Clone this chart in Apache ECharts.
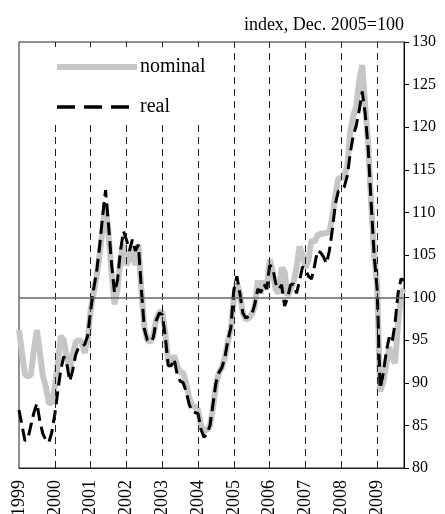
<!DOCTYPE html>
<html>
<head>
<meta charset="utf-8">
<script src="https://cdn.jsdelivr.net/npm/echarts@6/dist/echarts.min.js"></script>
<style>
html,body{margin:0;padding:0;background:#fff;}
#c{width:445px;height:514px;}
</style>
</head>
<body>
<div id="c"></div>
<script>
const years = ['1999','2000','2001','2002','2003','2004','2005','2006','2007','2008','2009'];
const monthsInLastYear = 10;
const yTicks = [80, 85, 90, 95, 100, 105, 110, 115, 120, 125, 130];
const fullDashYears = ['2005','2006','2007','2008','2009'];
const shortDashYears = ['2000','2001','2002','2003','2004'];
const shortDashTop = 120.8;
const baseLine = 100;

const nominal = [
  96.2, 93.5, 91, 90.7, 91, 94, 96.2, 93.5, 90.8, 89.5, 87.6, 87.7,
  89.5, 92.3, 95.5, 95, 93, 91.5, 93.3, 94.8, 95, 94.8, 93.5, 95,
  98.5, 100.5, 102.5, 105, 108, 111, 107.5, 103, 99.2, 101, 104.5, 106.3,
  103.8, 104.5, 106, 103.8, 106.2, 101, 96.5, 95, 94.8, 95.5, 97.5, 98.3,
  98.3, 96, 92.5, 92.3, 93.2, 92, 91.2, 91.2, 90, 88.3, 87.3, 87.2,
  86.8, 85, 84.3, 84.5, 85, 87, 89.8, 91.2, 91.8, 93, 94.8, 96.3,
  100, 101.7, 100.5, 98.2, 97.4, 97.6, 98, 99, 102, 100.5, 102, 101,
  104.5, 103, 101, 100.5, 103.5, 103, 100.2, 101, 101.8, 103.5, 106, 105,
  103.5, 104.4, 106.8, 106.5, 107.3, 107.5, 107.5, 107.6, 107.7, 109.5, 112, 114,
  114, 114.2, 115.5, 119.5, 121.3, 122.5, 125.5, 127.3, 122.5, 118, 111, 105,
  101.3, 89, 90, 92, 94.2, 93, 92.3, 97, 100.5, 101
];
const real = [
  86.8, 85, 83.2, 83.5, 85, 86.5, 87.6, 85.5, 84, 83.3, 83, 84.2,
  86.3, 89, 91.5, 93.1, 92.3, 90.2, 91.5, 93.3, 94.2, 94.3, 94.5, 95.5,
  98.5, 101, 103, 106, 109.5, 112.6, 108.5, 104, 100.6, 102, 105.5, 107.8,
  106.8, 105.5, 106.8, 105.5, 106.2, 101, 96.3, 95, 94.8, 95.3, 97.3, 98.2,
  98, 95.5, 92, 92, 92.8, 91, 90.2, 90, 89, 87.5, 86.6, 86.5,
  86.4, 84.5, 83.6, 84, 85, 87.5, 90, 91.2, 91.8, 93, 95, 96.5,
  100.9, 102.5, 100.5, 98.2, 97.6, 97.8, 98, 99.2, 101, 100.6, 101.6, 101,
  103.8, 103.5, 101.7, 101, 101.5, 99, 100, 101.5, 101.6, 100.5, 102, 103.6,
  103.3, 102.5, 102.2, 103.7, 105.5, 105.3, 104.8, 104, 105.5, 108, 111, 112.5,
  112.6, 113, 114.3, 117, 119, 120.2, 122, 124.2, 121.6, 117.5, 111, 105,
  101, 89.3, 91, 93.5, 95.3, 94.7, 97, 100.5, 102.2, 102
];

// month categories built from the year list
const months = [];
years.forEach((y, i) => {
  const n = (i === years.length - 1) ? monthsInLastYear : 12;
  for (let m = 1; m <= n; m++) months.push(y + '-' + (m < 10 ? '0' + m : m));
});
const jan = y => y + '-01';

const FONT = '"Liberation Serif","Times New Roman",serif';

const dashLines = [];
shortDashYears.forEach(y => dashLines.push([{ coord: [jan(y), 80] }, { coord: [jan(y), shortDashTop] }]));
fullDashYears.forEach(y => dashLines.push([{ coord: [jan(y), 80] }, { coord: [jan(y), 130] }]));

const chart = echarts.init(document.getElementById('c'), null, { renderer: 'canvas' });
chart.setOption({
  animation: false,
  backgroundColor: '#fff',
  title: {
    text: 'index, Dec. 2005=100',
    right: 36, top: 11,
    textStyle: { fontFamily: FONT, fontSize: 18, fontWeight: 'normal', color: '#000' }
  },
  legend: {
    orient: 'vertical',
    left: 49, top: 52,
    itemWidth: 80, itemHeight: 14, itemGap: 20,
    itemStyle: { color: 'rgba(0,0,0,0)', borderWidth: 0, opacity: 0 },
    textStyle: { fontFamily: FONT, fontSize: 20, color: '#000', padding: [0,0,0,-2] },
    data: [
      { name: 'nominal', lineStyle: { width: 6, color: '#c6c6c6' } },
      { name: 'real', lineStyle: { width: 3.5, color: '#000', type: [18, 9] } }
    ]
  },
  grid: { left: 19, right: 41, top: 42, bottom: 46, show: true, borderColor: '#222', borderWidth: 1,
    outerBoundsMode: 'none', containLabel: false },
  xAxis: [{
    type: 'category',
    data: months,
    boundaryGap: false,
    axisLine: { show: true, lineStyle: { color: '#222' } },
    axisTick: { show: false },
    axisLabel: {
      rotate: 90, margin: 12,
      fontFamily: FONT, fontSize: 18, color: '#000',
      interval: (i, v) => v.endsWith('-01'),
      formatter: v => v.slice(0, 4)
    },
    splitLine: { show: false }
  }, {
    type: 'category',
    data: months,
    boundaryGap: false,
    position: 'top',
    axisLine: { show: false },
    axisTick: { show: true, inside: true, length: 5, lineStyle: { color: '#222' },
      interval: (i, v) => v.endsWith('-01') && i > 0 },
    axisLabel: { show: false }
  }],
  yAxis: {
    type: 'value',
    position: 'right',
    min: 80, max: 130, interval: 5,
    axisLine: { show: true, lineStyle: { color: '#000' } },
    axisTick: { show: true, length: 5, lineStyle: { color: '#000' } },
    axisLabel: { fontFamily: FONT, fontSize: 16, color: '#000', margin: 8,
      formatter: v => yTicks.includes(v) ? String(v) : '' },
    splitLine: { show: false }
  },
  series: [{
    name: 'nominal',
    type: 'line',
    data: nominal,
    symbol: 'none',
    lineStyle: { color: '#c6c6c6', width: 6 },
    itemStyle: { color: '#c6c6c6' },
    z: 2,
    markLine: {
      silent: true, symbol: 'none', label: { show: false },
      lineStyle: { color: '#222', type: [7, 5], width: 1 },
      data: dashLines
    }
  }, {
    name: 'real',
    type: 'line',
    data: real,
    symbol: 'none',
    lineStyle: { color: '#000', width: 3, type: [13, 6] },
    itemStyle: { color: '#000' },
    z: 3,
    markLine: {
      silent: true, symbol: 'none', label: { show: false },
      lineStyle: { color: '#666', type: 'solid', width: 1.5 },
      data: [{ yAxis: baseLine }]
    }
  }]
});
</script>
</body>
</html>
